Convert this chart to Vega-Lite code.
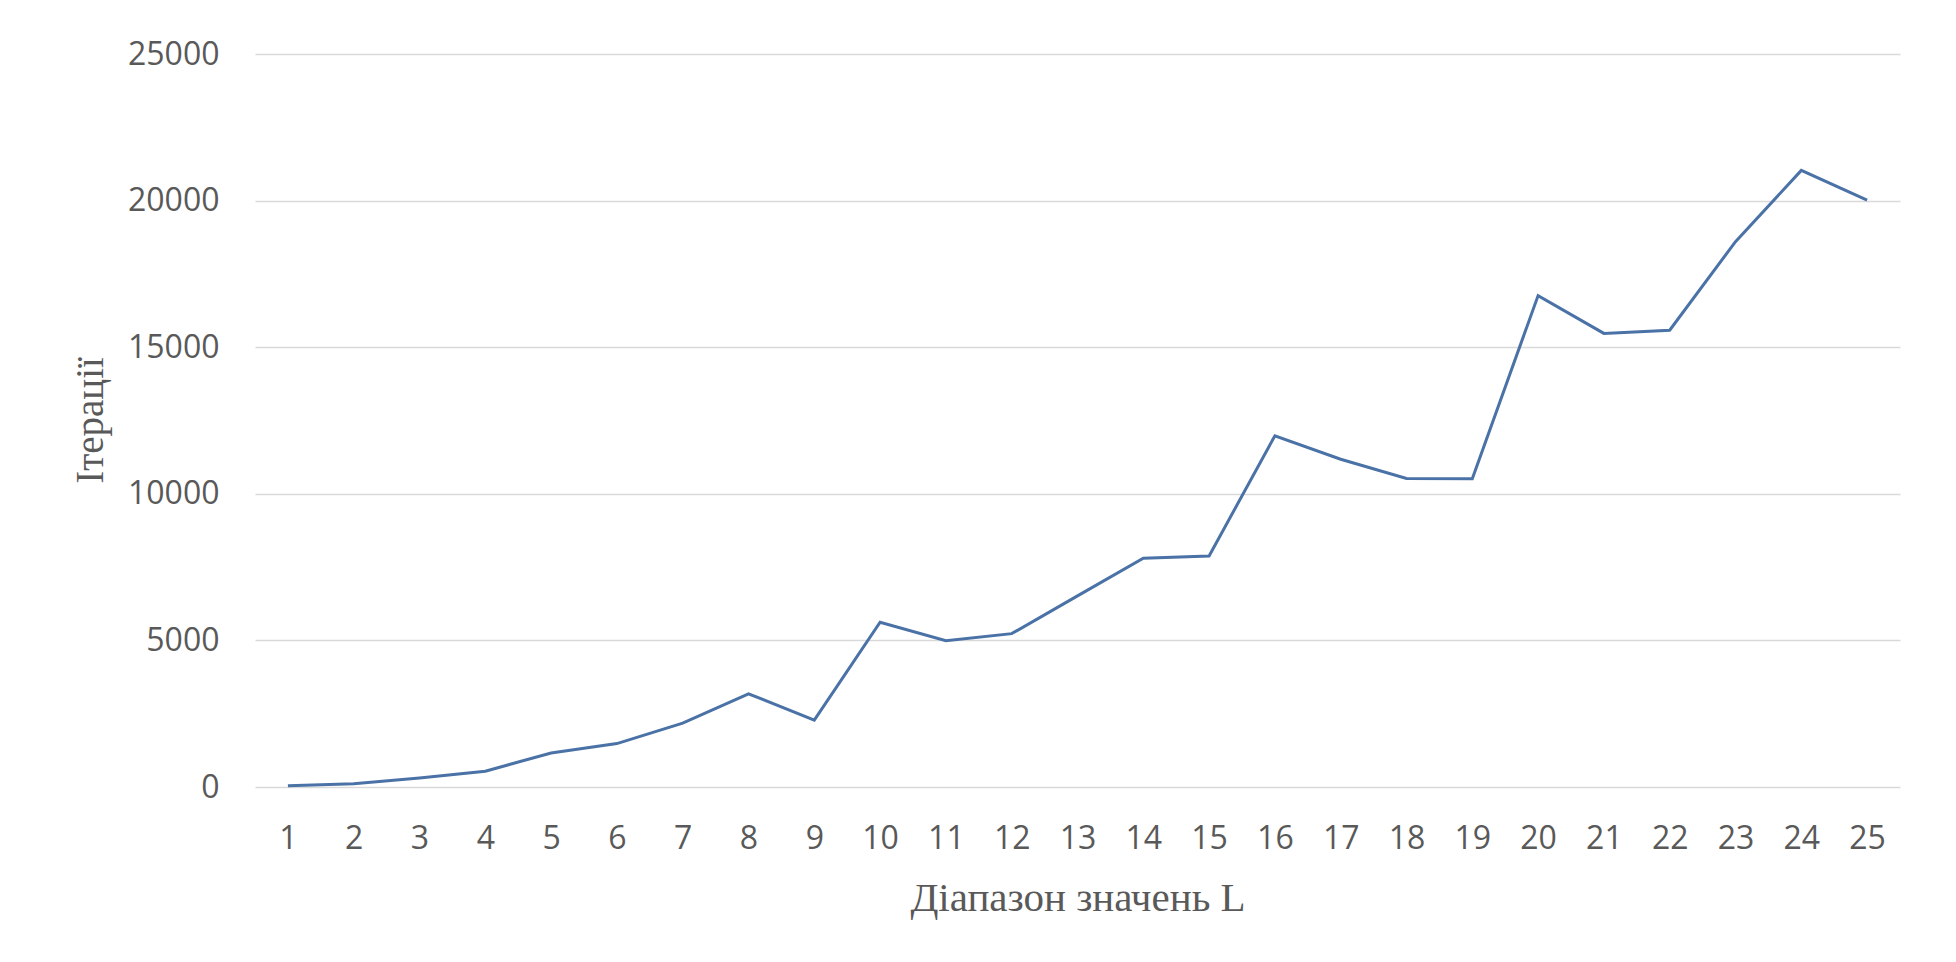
{
  "$schema": "https://vega.github.io/schema/vega-lite/v6.json",
  "autosize": "none",
  "width": 1645,
  "height": 733,
  "padding": {"left": 255, "top": 54, "right": 56, "bottom": 175},
  "background": "white",
  "config": {
    "view": {"stroke": null},
    "font": "Open Sans"
  },
  "data": {
    "values": [
      {"L": 1, "iter": 45},
      {"L": 2, "iter": 115},
      {"L": 3, "iter": 310},
      {"L": 4, "iter": 540},
      {"L": 5, "iter": 1160},
      {"L": 6, "iter": 1480},
      {"L": 7, "iter": 2180},
      {"L": 8, "iter": 3180},
      {"L": 9, "iter": 2280},
      {"L": 10, "iter": 5620},
      {"L": 11, "iter": 4990},
      {"L": 12, "iter": 5230},
      {"L": 13, "iter": 6520},
      {"L": 14, "iter": 7800},
      {"L": 15, "iter": 7880},
      {"L": 16, "iter": 11980},
      {"L": 17, "iter": 11180},
      {"L": 18, "iter": 10520},
      {"L": 19, "iter": 10510},
      {"L": 20, "iter": 16760},
      {"L": 21, "iter": 15470},
      {"L": 22, "iter": 15580},
      {"L": 23, "iter": 18600},
      {"L": 24, "iter": 21030},
      {"L": 25, "iter": 20020}
    ]
  },
  "mark": {"type": "line", "color": "#4a72a6", "strokeWidth": 3, "strokeJoin": "miter"},
  "encoding": {
    "x": {
      "field": "L",
      "type": "ordinal",
      "scale": {"type": "point", "padding": 0.5},
      "axis": {
        "title": "Діапазон значень L",
        "titleFont": "Liberation Serif",
        "titleFontSize": 41,
        "titleFontWeight": "normal",
        "titleColor": "#595959",
        "titleBaseline": "alphabetic",
        "titleY": 123,
        "labelAngle": 0,
        "labelFont": "Open Sans",
        "labelFontSize": 32,
        "labelColor": "#595959",
        "labelPadding": 36,
        "ticks": false,
        "tickSize": 0,
        "domain": false,
        "grid": false
      }
    },
    "y": {
      "field": "iter",
      "type": "quantitative",
      "scale": {"domain": [0, 25000], "nice": false},
      "axis": {
        "title": "Ітерації",
        "titleFont": "Liberation Serif",
        "titleFontSize": 39,
        "titleFontWeight": "normal",
        "titleColor": "#595959",
        "titleAngle": -90,
        "titleBaseline": "alphabetic",
        "titleX": -153,
        "titleY": 366,
        "titleAlign": "center",
        "values": [0, 5000, 10000, 15000, 20000, 25000],
        "format": "d",
        "labelFont": "Open Sans",
        "labelFontSize": 32,
        "labelColor": "#595959",
        "labelPadding": 36,
        "ticks": false,
        "tickSize": 0,
        "domain": false,
        "grid": true,
        "gridColor": "#d9d9d9",
        "gridWidth": 1.5
      }
    }
  }
}
